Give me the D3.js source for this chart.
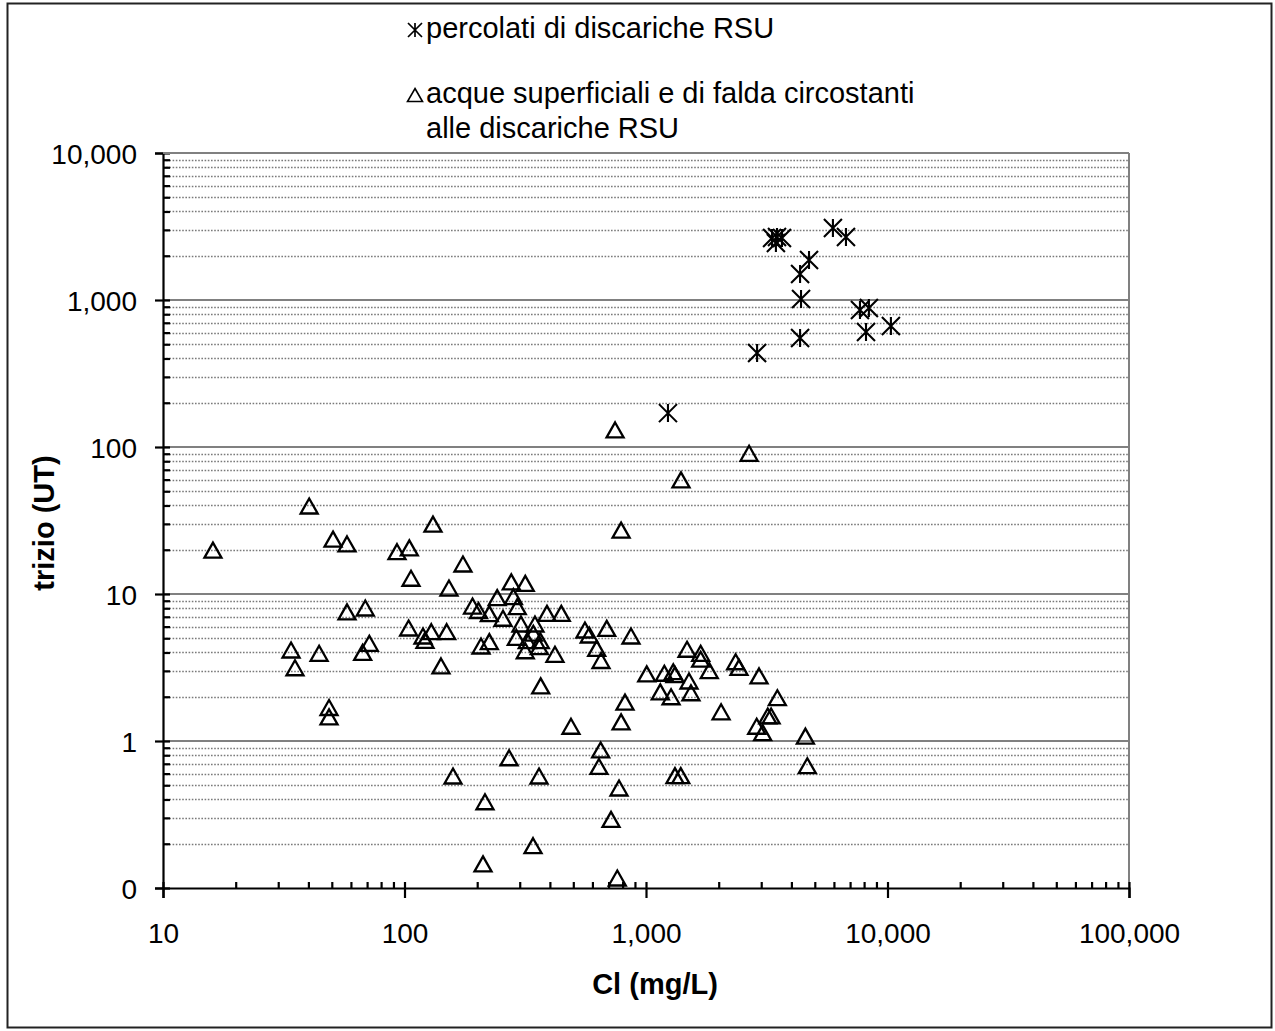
<!DOCTYPE html>
<html>
<head>
<meta charset="utf-8">
<script src="https://cdn.jsdelivr.net/npm/d3@7"></script>
<style>
  body { margin: 0; background: #fff; }
  text { font-family: "Liberation Sans", Arial, sans-serif; fill: #000; }
</style>
</head>
<body>
<div id="chart"></div>
<script>
// percolati di discariche RSU (stars)
const percolatiCl = [1233, 2884, 3327, 3487, 3656, 3451, 4345, 4385, 4345, 4732, 5943, 6730, 7691, 8375, 8147, 10330];
const percolatiTrizio = [170, 436, 2642, 2685, 2642, 2443, 1503, 1016, 551, 1871, 3090, 2685, 855, 883, 605, 665];

// acque superficiali e di falda (triangles)
const acqueCl = [
  16.1, 40.3, 50.6, 57.8, 33.9, 35.2, 44.3, 48.7, 48.7, 57.8,
  68.8, 67.1, 71.5, 93.1, 104.7, 106.4, 131.2, 104, 119.3, 121.6,
  129.1, 149.5, 141.6, 152.8, 174.6, 191.3, 202.5, 207.4, 224.5, 224.5,
  242, 255.8, 276.8, 282.4, 293.1, 316.3, 303.5, 346.9, 389, 445.9,
  290.4, 322.3, 341.5, 365, 316.3, 361.6, 419.8, 558.7, 582.1, 687.7,
  866.6, 625, 651.2, 366.4, 489, 271, 158.8, 360.6, 215.4, 340.6,
  211.4, 649, 638.6, 773.2, 716.4, 760.6, 818.5, 788.6, 744.7, 1396,
  788.6, 2672, 1007, 1191, 1297, 1318, 1479, 1507, 1146, 1270,
  1535, 1684, 1684, 1828, 2350, 2427, 2938, 2046, 3499, 2873,
  3041, 3192, 3296, 4571, 4656, 1318, 1393
];
const acqueTrizio = [
  19.9, 39.7, 23.6, 21.9, 4.16, 3.15, 3.95, 1.69, 1.46, 7.55,
  8.03, 4.01, 4.62, 19.4, 20.6, 12.8, 29.9, 5.87, 5.18, 4.84,
  5.54, 5.54, 3.24, 10.98, 16.0, 8.28, 7.72, 4.43, 4.74, 7.35,
  9.44, 6.84, 12.1, 9.59, 8.20, 11.8, 6.25, 6.25, 7.39, 7.39,
  5.07, 4.81, 5.41, 4.81, 4.11, 4.38, 3.89, 5.69, 5.26, 5.84,
  5.18, 4.27, 3.53, 2.37, 1.26, 0.769, 0.578, 0.578, 0.386, 0.194,
  0.146, 0.869, 0.671, 0.479, 0.293, 0.117, 1.84, 1.35, 130.6, 59.7,
  27.2, 90.6, 2.86, 2.89, 2.96, 2.83, 4.21, 2.56, 2.16, 2.00,
  2.13, 3.95, 3.60, 3.01, 3.46, 3.17, 2.77, 1.58, 1.97, 1.26,
  1.14, 1.48, 1.48, 1.08, 0.679, 0.581, 0.581
];

const xTicks = [10, 100, 1000, 10000, 100000];
const xTickLabels = ["10", "100", "1,000", "10,000", "100,000"];
const yTicks = [0.1, 1, 10, 100, 1000, 10000];
const yTickLabels = ["0", "1", "10", "100", "1,000", "10,000"];
const legendLabels = ["percolati di discariche RSU", "acque superficiali e di falda circostanti", "alle discariche RSU"];

const W = 1275, H = 1031;
const plot = { left: 163, right: 1129, top: 153, bottom: 888 };

const svg = d3.select("#chart").append("svg")
  .attr("width", W)
  .attr("height", H);

// outer frame
svg.append("rect")
  .attr("x", 7.5).attr("y", 3.5)
  .attr("width", 1264).attr("height", 1024)
  .attr("fill", "#fff")
  .attr("stroke", "#222")
  .attr("stroke-width", 2);

const x = d3.scaleLog().domain([10, 100000]).range([plot.left, plot.right]);
const y = d3.scaleLog().domain([0.1, 10000]).range([plot.bottom, plot.top]);

// minor values, 2..9 of every decade
const minorX = [], minorY = [];
for (let p = 1; p < 5; p++) for (let m = 2; m < 10; m++) minorX.push(m * Math.pow(10, p));
for (let p = -1; p < 4; p++) for (let m = 2; m < 10; m++) minorY.push(m * Math.pow(10, p));

// dotted minor gridlines
svg.append("g")
  .selectAll("line")
  .data(minorY)
  .join("line")
    .attr("x1", plot.left).attr("x2", plot.right)
    .attr("y1", d => Math.round(y(d)) + 0.5).attr("y2", d => Math.round(y(d)) + 0.5)
    .attr("stroke", "#7a7a7a")
    .attr("stroke-width", 1.6)
    .attr("stroke-dasharray", "1.6,1.6");

// solid major gridlines
svg.append("g")
  .selectAll("line")
  .data(yTicks.slice(1))
  .join("line")
    .attr("x1", plot.left).attr("x2", plot.right)
    .attr("y1", d => y(d)).attr("y2", d => y(d))
    .attr("stroke", "#808080")
    .attr("stroke-width", 2);

// right border of plot area
svg.append("line")
  .attr("x1", plot.right).attr("x2", plot.right)
  .attr("y1", plot.top).attr("y2", plot.bottom)
  .attr("stroke", "#808080")
  .attr("stroke-width", 2);

// y axis: minor ticks inside, major ticks crossing
const yAxisG = svg.append("g").attr("transform", `translate(${plot.left},0)`);
yAxisG.append("g")
  .call(d3.axisRight(y).tickValues(minorY).tickSize(7).tickFormat(""))
  .call(g => g.select(".domain").remove());
yAxisG.append("g")
  .call(d3.axisRight(y).tickValues(yTicks).tickSize(7).tickFormat(""))
  .call(g => g.select(".domain").remove());
yAxisG.append("g")
  .call(d3.axisLeft(y).tickValues(yTicks).tickSize(8).tickPadding(18)
    .tickFormat((d, i) => yTickLabels[i]))
  .call(g => g.selectAll("text")
    .style("font-family", "'Liberation Sans', Arial, sans-serif")
    .style("font-size", "28px")
    .attr("dy", "0.36em"));
yAxisG.selectAll("line, path").attr("stroke", "#000").attr("stroke-width", 2.2);

// x axis
const xAxisG = svg.append("g").attr("transform", `translate(0,${plot.bottom})`);
xAxisG.append("g")
  .call(d3.axisTop(x).tickValues(minorX).tickSize(6).tickFormat(""))
  .call(g => g.select(".domain").remove());
xAxisG.append("g")
  .call(d3.axisTop(x).tickValues(xTicks).tickSize(6).tickFormat(""))
  .call(g => g.select(".domain").remove());
xAxisG.append("g")
  .call(d3.axisBottom(x).tickValues(xTicks).tickSize(10).tickPadding(25)
    .tickFormat((d, i) => xTickLabels[i]))
  .call(g => g.selectAll("text")
    .style("font-family", "'Liberation Sans', Arial, sans-serif")
    .style("font-size", "28px"));
xAxisG.selectAll("line, path").attr("stroke", "#000").attr("stroke-width", 2.2);

// top border of plot area (over the axis tick at 10,000)
svg.append("line")
  .attr("x1", plot.left).attr("x2", plot.right)
  .attr("y1", plot.top).attr("y2", plot.top)
  .attr("stroke", "#808080")
  .attr("stroke-width", 2);

// axis titles
svg.append("text")
  .attr("x", x(1000) + 9)
  .attr("y", 994)
  .attr("text-anchor", "middle")
  .style("font-size", "29px")
  .style("font-weight", "bold")
  .text("Cl (mg/L)");

svg.append("text")
  .attr("transform", `translate(54,${y(10) - 71}) rotate(-90)`)
  .attr("text-anchor", "middle")
  .style("font-size", "29px")
  .style("font-weight", "bold")
  .text("trizio (UT)");

// marker shapes
const triPath = (w, h) => `M0,${-h / 2}L${w / 2},${h / 2}L${-w / 2},${h / 2}Z`;
const starPath = s => `M${-s},${-s}L${s},${s}M${-s},${s}L${s},${-s}M0,${-s}L0,${s}`;

const acque = acqueCl.map((c, i) => ({ cl: c, t: acqueTrizio[i] }));
const percolati = percolatiCl.map((c, i) => ({ cl: c, t: percolatiTrizio[i] }));

svg.append("g")
  .selectAll("path")
  .data(acque)
  .join("path")
    .attr("transform", d => `translate(${x(d.cl)},${y(d.t)})`)
    .attr("d", triPath(17, 15))
    .attr("fill", "none")
    .attr("stroke", "#000")
    .attr("stroke-width", 2.3)
    .attr("stroke-linejoin", "miter");

svg.append("g")
  .selectAll("path")
  .data(percolati)
  .join("path")
    .attr("transform", d => `translate(${x(d.cl)},${y(d.t)})`)
    .attr("d", starPath(9))
    .attr("fill", "none")
    .attr("stroke", "#000")
    .attr("stroke-width", 2.1);

// legend
const legend = svg.append("g");
legend.append("path")
  .attr("transform", "translate(415,30)")
  .attr("d", starPath(7))
  .attr("fill", "none")
  .attr("stroke", "#000")
  .attr("stroke-width", 1.7);
legend.append("text")
  .attr("x", 426).attr("y", 38)
  .style("font-size", "29px")
  .text(legendLabels[0]);

legend.append("path")
  .attr("transform", "translate(415,95)")
  .attr("d", triPath(15, 13))
  .attr("fill", "none")
  .attr("stroke", "#000")
  .attr("stroke-width", 1.6);
legend.append("text")
  .attr("x", 426).attr("y", 103)
  .style("font-size", "29px")
  .text(legendLabels[1]);
legend.append("text")
  .attr("x", 426).attr("y", 138)
  .style("font-size", "29px")
  .text(legendLabels[2]);
</script>
</body>
</html>
